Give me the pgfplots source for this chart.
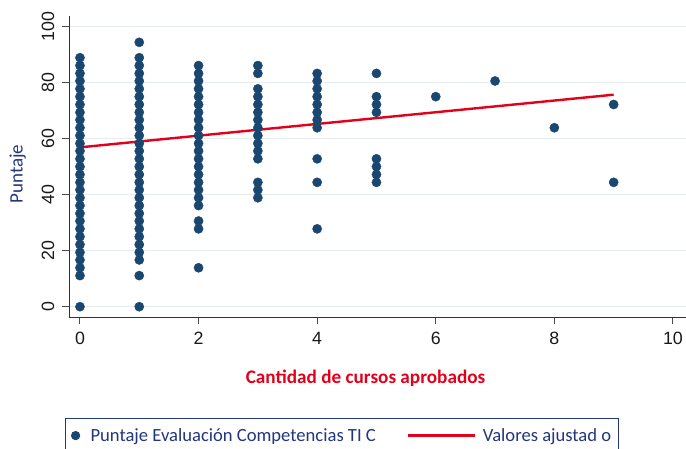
\documentclass[border=0pt]{standalone}
\usepackage{pgfplots}
\pgfplotsset{compat=1.18}
\usepackage{fontspec}
\setmainfont{Carlito}
\newfontfamily\arialf{Liberation Sans}
\definecolor{statanavy}{RGB}{26,71,111}
\definecolor{fitred}{RGB}{226,0,26}
\definecolor{lblue}{RGB}{35,55,125}
\definecolor{gridc}{RGB}{232,238,240}
\pgfplotsset{
  scatleg/.style={legend image code/.code={\path[draw=none, fill=none] (0bp,-4bp) rectangle (25bp,4bp);
    \fill[statanavy] (10bp,0bp) circle[radius=4bp];}},
  lineleg/.style={legend image code/.code={\path[draw=none, fill=none] (0bp,-4bp) rectangle (75bp,4bp);
    \draw[fitred, line width=2.4bp] (0bp,0bp) -- (67bp,0bp);}},
}
\begin{document}
\begin{tikzpicture}
\useasboundingbox (0,0) rectangle (686bp,449bp);
\begin{axis}[
  at={(69bp,131.3bp)}, anchor=south west,
  scale only axis, width=617bp, height=301.7bp,
  xmin=-0.185, xmax=10.22, ymin=-3.93, ymax=103.8,
  axis x line*=bottom, axis y line*=left,
  axis line style={black!80, line width=1bp},
  tick align=outside, major tick length=6.5bp,
  tick style={black!70, line width=1bp},
  xtick={0,2,...,10}, ytick={0,20,...,100},
  ymajorgrids, grid style={gridc, line width=1.2bp},
  /pgf/number format/assume math mode=true,
  ticklabel style={font=\arialf\fontsize{17.8bp}{20bp}\selectfont, text=black!90},
  xticklabel style={anchor=north, inner sep=0pt, yshift=-7.5bp},
  yticklabel style={xshift=-8bp, rotate=90, anchor=south, inner sep=0pt},
  xlabel={Cantidad de cursos aprobados},
  xlabel style={at={(axis description cs:0.4806,-0.2174)}, anchor=base, inner sep=0pt,
    font=\bfseries\fontsize{19.2bp}{22bp}\selectfont, text=fitred},
  ylabel={Puntaje},
  ylabel style={at={(axis description cs:-0.0750,0.4763)}, anchor=base, inner sep=0pt,
    font=\fontsize{19bp}{22bp}\selectfont, text=lblue},
  legend columns=2,
  legend style={at={(axis description cs:-0.00648,-0.3334)}, anchor=north west,
    draw=lblue, line width=1.2bp, inner xsep=0pt, inner ysep=9.5bp,
    nodes={inner sep=0pt}, cells={anchor=west},
    font=\fontsize{18.6bp}{22bp}\selectfont, text=lblue},
  clip=false,
]
\addplot[only marks, mark=*, mark size=4.6bp, color=statanavy,
  mark options={draw=statanavy, fill=statanavy}, scatleg]
table[row sep=\\]{
x y\\
0 0\\ 0 11.1\\ 0 13.9\\ 0 16.7\\ 0 19.4\\ 0 22.2\\ 0 25.0\\ 0 27.8\\ 0 30.6\\ 0 33.3\\
0 36.1\\ 0 38.9\\ 0 41.7\\ 0 44.4\\ 0 47.2\\ 0 50.0\\ 0 52.8\\ 0 55.6\\ 0 58.3\\ 0 61.1\\
0 63.9\\ 0 66.7\\ 0 69.4\\ 0 72.2\\ 0 75.0\\ 0 77.8\\ 0 80.6\\ 0 83.3\\ 0 86.1\\ 0 88.9\\
1 0\\ 1 11.1\\ 1 16.7\\ 1 19.4\\ 1 22.2\\ 1 25.0\\ 1 27.8\\ 1 30.6\\ 1 33.3\\
1 36.1\\ 1 38.9\\ 1 41.7\\ 1 44.4\\ 1 47.2\\ 1 50.0\\ 1 52.8\\ 1 55.6\\ 1 58.3\\ 1 61.1\\
1 63.9\\ 1 66.7\\ 1 69.4\\ 1 72.2\\ 1 75.0\\ 1 77.8\\ 1 80.6\\ 1 83.3\\ 1 86.1\\ 1 88.9\\ 1 94.4\\
2 13.9\\ 2 27.8\\ 2 30.6\\ 2 36.1\\ 2 38.9\\ 2 41.7\\ 2 44.4\\ 2 47.2\\ 2 50.0\\ 2 52.8\\
2 55.6\\ 2 58.3\\ 2 61.1\\ 2 63.9\\ 2 66.7\\ 2 69.4\\ 2 72.2\\ 2 75.0\\ 2 77.8\\ 2 80.6\\
2 83.3\\ 2 86.1\\
3 38.9\\ 3 41.7\\ 3 44.4\\ 3 52.8\\ 3 55.6\\ 3 58.3\\ 3 61.1\\ 3 63.9\\ 3 66.7\\ 3 69.4\\
3 72.2\\ 3 75.0\\ 3 77.8\\ 3 83.3\\ 3 86.1\\
4 27.8\\ 4 44.4\\ 4 52.8\\ 4 63.9\\ 4 66.7\\ 4 69.4\\ 4 72.2\\ 4 75.0\\ 4 77.8\\ 4 80.6\\ 4 83.3\\
5 44.4\\ 5 47.2\\ 5 50.0\\ 5 52.8\\ 5 69.4\\ 5 72.2\\ 5 75.0\\ 5 83.3\\
6 75.0\\
7 80.6\\
8 63.9\\
9 44.4\\ 9 72.2\\
};
\addlegendentry{\makebox[316bp][l]{Puntaje Evaluación Competencias TI C}}
\addplot[fitred, line width=2.4bp, lineleg]
coordinates {(0,56.9) (9,75.7)};
\addlegendentry{\makebox[136bp][l]{Valores ajustad o}}
\end{axis}
\end{tikzpicture}
\end{document}
